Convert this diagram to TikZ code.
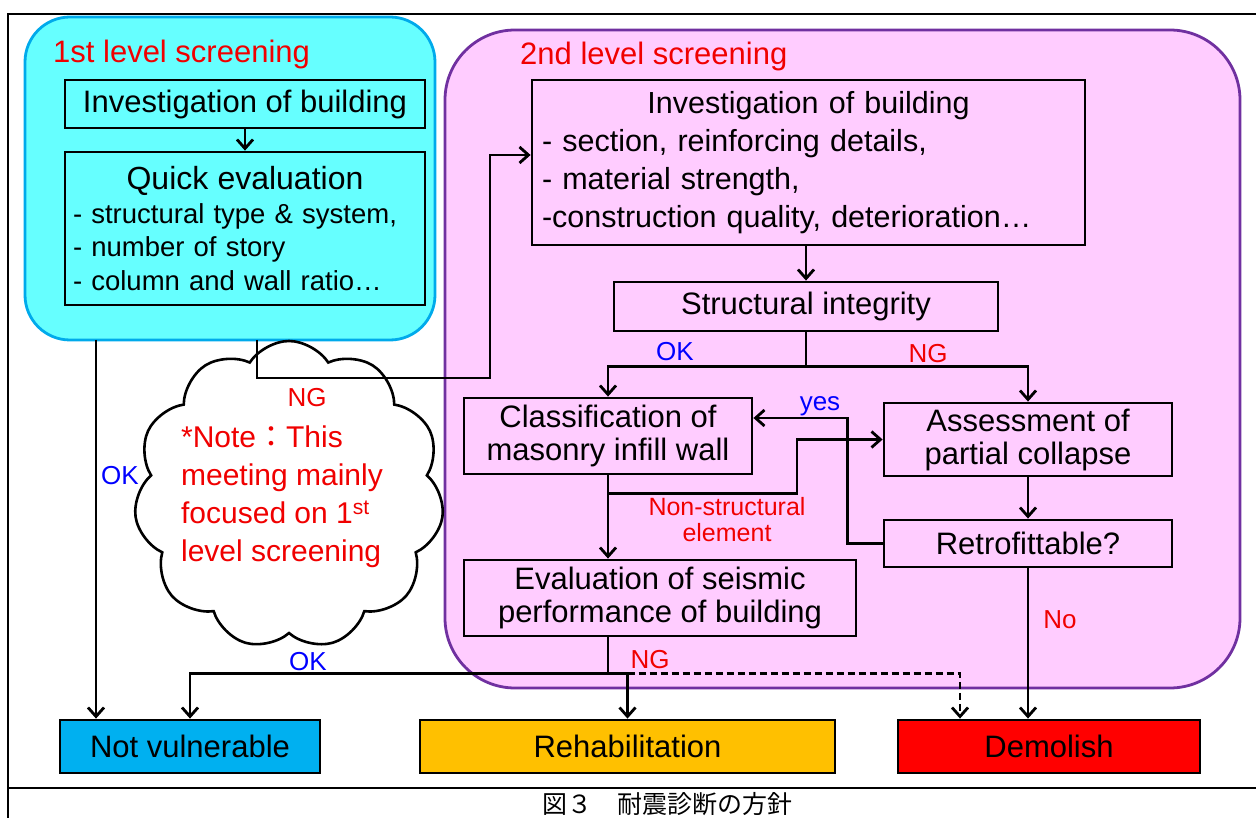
\documentclass[tikz,border=0pt]{standalone}
\usepackage{fontspec}
\setmainfont{Liberation Sans}
\newfontfamily\cjk{Noto Sans CJK JP}
\usepackage{tikz}
\usetikzlibrary{positioning,arrows.meta,shapes.symbols}

\definecolor{cyanfill}{RGB}{102,255,255}
\definecolor{cyanedge}{RGB}{0,170,235}
\definecolor{pinkfill}{RGB}{255,204,255}
\definecolor{purpleedge}{RGB}{112,48,160}
\definecolor{notvulfill}{RGB}{0,176,240}
\definecolor{rehabfill}{RGB}{255,192,0}
\definecolor{demolfill}{RGB}{255,0,0}
\definecolor{okblue}{RGB}{0,0,255}
\definecolor{ngred}{RGB}{240,0,0}

\tikzset{
    levelone/.style={draw=cyanedge, fill=cyanfill, line width=2.8pt, rounded corners=45pt},
    leveltwo/.style={draw=purpleedge, fill=pinkfill, line width=2.8pt, rounded corners=70pt},
    flowbox/.style={draw, line width=2.8pt, inner sep=0pt, align=center, font=\fontsize{31}{33}\selectfont},
    outbox/.style={flowbox, fill=#1, minimum height=53pt},
    link/.style={line width=2.8pt},
    arr/.style={link, -{Straight Barb[length=9pt,width=16pt]}},
    oklab/.style={text=okblue, inner sep=0pt, font=\fontsize{26}{28}\selectfont},
    nglab/.style={text=ngred, inner sep=0pt, font=\fontsize{26}{28}\selectfont},
    steptitle/.style={text=ngred, anchor=west, inner sep=0pt, font=\fontsize{31}{34}\selectfont}
}

\begin{document}
\begin{tikzpicture}[x=1pt,y=-1pt]
    \useasboundingbox (0,0) rectangle (1256,818);

    % Frame of the table cell
    \draw[line width=2.8pt] (8,818) -- (8,14) -- (1256,14);
    \draw[line width=2.8pt] (8,788) -- (1256,788);

    % Screening levels
    \node[levelone, minimum width=410pt, minimum height=323pt] (first) at (230,178.5) {};
    \node[leveltwo, minimum width=795pt, minimum height=658pt] (second) at (842.5,359) {};
    \node[steptitle] (firsttitle) at (53,54) {1st level screening};
    \node[steptitle] (secondtitle) at (520,56) {2nd level screening};

    % Note cloud
    \node[cloud, draw, fill=white, line width=2.6pt, cloud puffs=11, cloud puff arc=115,
          aspect=1, minimum width=310pt, minimum height=308pt, inner sep=0pt] (cloud) at (289,495) {};
    \node[text=ngred, align=left, font=\fontsize{30}{38}\selectfont] (note) at (282,497)
        {*Note{\cjk ：}This\\meeting mainly\\focused on 1\textsuperscript{st}\\level screening};

    % 1st level boxes
    \node[flowbox, minimum width=360pt, minimum height=48pt] (invone) at (245,104) {Investigation of building};
    \node[flowbox, minimum width=360pt, minimum height=153pt, text width=344pt, align=left,
          font=\fontsize{27.5}{33.5}\selectfont] (quick) at (245,228.5)
        {\makebox[344pt]{\fontsize{32}{34}\selectfont Quick evaluation}\\
         - structural type \& system,\\
         - number of story\\
         - column and wall ratio\dots};

    % 2nd level boxes
    \node[flowbox, minimum width=553pt, minimum height=165pt, text width=533pt, align=left,
          font=\fontsize{30.5}{38}\selectfont] (invtwo) at (808.5,162.5)
        {\makebox[533pt]{Investigation of building}\\
         - section, reinforcing details,\\
         - material strength,\\
         -construction quality, deterioration\dots};
    \node[flowbox, minimum width=384pt, minimum height=49pt] (integ) at (806,306.5) {Structural integrity};
    \node[flowbox, minimum width=288pt, minimum height=76pt] (classif) at (608,436) {Classification of\\masonry infill wall};
    \node[flowbox, minimum width=288pt, minimum height=73pt] (assess) at (1028,439.5) {Assessment of\\partial collapse};
    \node[flowbox, minimum width=288pt, minimum height=47pt] (retro) at (1028,543.5) {Retrofittable?};
    \node[flowbox, minimum width=392pt, minimum height=76pt] (eval) at (660,598) {Evaluation of seismic\\performance of building};

    % Results
    \node[outbox=notvulfill, minimum width=260pt] (notvul) at (190,746.5) {Not vulnerable};
    \node[outbox=rehabfill, minimum width=415pt] (rehab) at (627.5,746.5) {Rehabilitation};
    \node[outbox=demolfill, minimum width=302pt] (demol) at (1049,746.5) {Demolish};

    % Connectors
    \draw[arr] (invone) -- (quick);
    \coordinate (okone) at (96,340);
    \draw[arr] (okone) -- (okone |- notvul.north);
    \coordinate (ngone) at (257,340);
    \coordinate (ngbend) at (490,378);
    \draw[arr] (ngone) |- (ngbend) |- ([yshift=7.5pt]invtwo.west);
    \draw[arr] (invtwo.south -| integ.north) -- (integ.north);
    \draw[link] (integ.south) -- ++(0,34) coordinate (split);
    \draw[arr] (split) -| (classif.north);
    \draw[arr] (split) -| (assess.north);
    \draw[arr] (assess) -- (retro);
    \draw[arr] (retro.west) -- ++(-35,0) |- ([yshift=18pt]classif.east);
    \draw[arr] (classif.south) -- (classif.south |- eval.north);
    \draw[arr] ([yshift=-18pt]classif.south) -- ++(189,0) |- (assess.west);
    \draw[link] (classif.south |- eval.south) -- ++(0,36) coordinate (junc);
    \draw[arr] (junc) -| (notvul.north);
    \draw[arr] (junc) -| (rehab.north);
    \draw[arr, dash pattern=on 7pt off 4pt] (junc -| rehab.north) -| ([xshift=-89pt]demol.north);
    \draw[arr] (retro.south) -- (retro.south |- demol.north);

    % Labels
    \node[oklab] (okleft) at (120,476) {OK};
    \node[nglab] (ngleft) at (307,398) {NG};
    \node[oklab] (okinteg) at (675,352) {OK};
    \node[nglab] (nginteg) at (928,354) {NG};
    \node[oklab] (yes) at (820,406) {yes};
    \node[nglab, align=center, font=\fontsize{25}{26}\selectfont] (nonstruct) at (727,520) {Non-structural\\element};
    \node[nglab] (no) at (1060,620) {No};
    \node[oklab] (okeval) at (308,662) {OK};
    \node[nglab] (ngeval) at (650,660) {NG};

    % Caption
    \node[font=\cjk\fontsize{25}{27}\selectfont] (caption) at (667,804) {図３　耐震診断の方針};
\end{tikzpicture}
\end{document}
